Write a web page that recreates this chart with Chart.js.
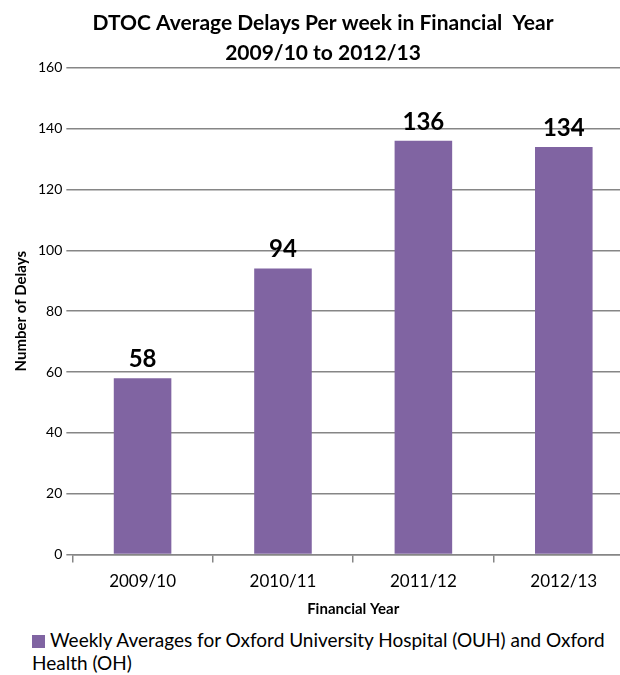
<!DOCTYPE html>
<html>
<head>
<meta charset="utf-8">
<script src="https://cdn.jsdelivr.net/npm/chart.js@4/dist/chart.umd.min.js"></script>
<style>
  html, body { margin: 0; padding: 0; background: #fff; overflow: hidden; }
  #wrap { position: relative; width: 634px; height: 624px; }
  #legend { position: relative; width: 574px; margin-left: 32px; margin-top: 4px; font-family: Lato, "Open Sans", sans-serif; font-size: 19px; color: #000; line-height: 23px; }
  #legend .box { display: inline-block; width: 13px; height: 13px; margin-right: 5px; vertical-align: -1px; }
</style>
</head>
<body>
<div id="wrap"><canvas id="delaysChart"></canvas></div>
<div id="legend"></div>
<script>
// Chart data
var years = ["2009/10", "2010/11", "2011/12", "2012/13"];
var weeklyDelays = [58, 94, 136, 134];
var seriesName = "Weekly Averages for Oxford University Hospital (OUH) and Oxford Health (OH)";
var titleLines = ["DTOC Average Delays Per week in Financial  Year", "2009/10 to 2012/13"];

var fontFamily = 'Lato, "Open Sans", sans-serif';
var gridGray = '#868686';

// draws the value above each bar
var valueLabels = {
    id: 'valueLabels',
    afterDatasetsDraw: function (chart) {
        var ctx = chart.ctx;
        var meta = chart.getDatasetMeta(0);
        ctx.save();
        ctx.font = 'bold 24px ' + fontFamily;
        ctx.fillStyle = '#000';
        ctx.textAlign = 'center';
        ctx.textBaseline = 'bottom';
        meta.data.forEach(function (bar, i) {
            ctx.fillText(chart.data.datasets[0].data[i], bar.x, bar.y - 7);
        });
        ctx.restore();
    }
};

var data = {
    labels: years,
    datasets: [{
        label: seriesName,
        data: weeklyDelays,
        backgroundColor: '#8064A2',
        borderWidth: 0,
        categoryPercentage: 1,
        barPercentage: 0.41
    }]
};

var options = {
    responsive: true,
    maintainAspectRatio: false,
    animation: false,
    layout: { padding: { left: 12, right: 0, top: 9, bottom: 6 } },
    scales: {
        x: {
            grid: {
                offset: true,
                drawOnChartArea: false,
                color: gridGray,
                lineWidth: 1.5,
                tickLength: 8
            },
            border: { color: gridGray, width: 1.5 },
            ticks: { color: '#000', font: { family: fontFamily, size: 17 }, padding: 8.5 },
            title: {
                display: true,
                text: 'Financial Year',
                color: '#000',
                font: { family: fontFamily, size: 15, weight: 'bold' },
                padding: { top: 0, bottom: 0 }
            }
        },
        y: {
            min: 0,
            max: 160,
            ticks: { stepSize: 20, color: '#000', font: { family: fontFamily, size: 14 }, padding: 4 },
            grid: { color: gridGray, lineWidth: 1.5, tickLength: 6 },
            border: { display: false },
            title: {
                display: true,
                text: 'Number of Delays',
                color: '#000',
                font: { family: fontFamily, size: 15, weight: 'bold' },
                padding: { top: 0, bottom: 4 }
            }
        }
    },
    plugins: {
        legend: { display: false },
        tooltip: { enabled: false },
        title: {
            display: true,
            text: titleLines,
            color: '#000',
            font: { family: fontFamily, size: 21, weight: 'bold', lineHeight: 1.4 },
            padding: { top: 0, bottom: 0 }
        }
    }
};

var ctx = document.getElementById('delaysChart').getContext('2d');
var delaysChart = new Chart(ctx, {
    type: 'bar',
    data: data,
    options: options,
    plugins: [valueLabels]
});

// simple legend under the chart (wraps like the original)
var legendEl = document.getElementById('legend');
legendEl.innerHTML = '<span class="box" style="background:' + data.datasets[0].backgroundColor + '"></span>' + seriesName;
</script>
</body>
</html>
